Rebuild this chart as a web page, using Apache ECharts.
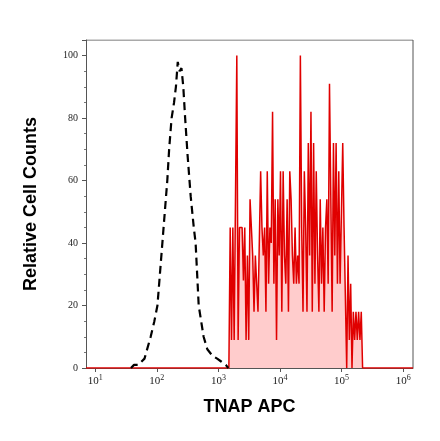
<!DOCTYPE html>
<html><head><meta charset="utf-8">
<script src="https://cdn.jsdelivr.net/npm/echarts@6/dist/echarts.min.js"></script>
<style>html,body{margin:0;padding:0;background:#fff}#c{width:440px;height:441px}</style>
</head><body><div id="c"></div>
<script>
// Isotype (dashed black): log10(intensity), count
const isoLog = [1.58,1.63,1.7,1.8,1.9,1.96,2.01,2.05,2.09,2.13,2.17,2.2,2.24,2.28,2.31,2.34,2.37,2.4,2.43,2.46,2.5,2.55,2.6,2.63,2.68,2.72,2.76,2.82,2.9,2.98,3.05,3.12,3.16];
const isoY = [0,1,1,3,10,15,20,30,40,50,60,70,80,85,90,98,95,96,90,80,68,55,45,40,20,15,10,6,4,3,2,1,0];
// Stained (red): bin start, bin width (log10), counts
const redStart = 3.17, redStep = 0.0215;
const redY = [0,45,9,45,9,9,100,9,45,45,45,28,45,9,36,9,54,45,36,18,36,36,18,18,63,45,36,45,18,63,27,45,40,82,27,54,9,54,36,63,18,63,36,27,54,18,63,54,36,27,45,27,36,27,100,45,18,63,45,18,72,36,82,18,72,27,63,36,18,54,27,45,18,45,54,27,91,91,18,72,36,72,27,63,27,27,72,45,45,0,36,9,27,0,18,9,18,9,18,9,18,0];
const xTicks = [1,2,3,4,5,6];
const yTicks = [0,20,40,60,80,100];

const iso = isoLog.map((v,i)=>[v,isoY[i]]);
const red = [[0.85,0]].concat(redY.map((v,i)=>[redStart+i*redStep,v])).concat([[6.16,0]]);
const ch = echarts.init(document.getElementById('c'));
ch.setOption({
  animation:false,
  grid:{left:86,right:27,top:40,bottom:73},
  xAxis:{type:'value',min:0.85,max:6.16,name:'TNAP APC',nameLocation:'middle',nameGap:30,
    nameTextStyle:{fontFamily:'Liberation Sans',fontWeight:'bold',fontSize:18,color:'#000'},
    axisLine:{lineStyle:{color:'#555'}},splitLine:{show:false},
    axisTick:{customValues:xTicks,length:4,lineStyle:{color:'#555'}},
    axisLabel:{customValues:xTicks,formatter:v=>'{b|10}{s|'+v+'}',margin:6,
      rich:{b:{fontFamily:'Liberation Serif',fontSize:11,color:'#222'},s:{fontFamily:'Liberation Serif',fontSize:8,color:'#222',padding:[0,0,7,0]}}}},
  yAxis:{type:'value',min:0,max:105,interval:20,name:'Relative Cell Counts',nameLocation:'middle',nameGap:46,
    nameTextStyle:{fontFamily:'Liberation Sans',fontWeight:'bold',fontSize:18,color:'#000'},
    axisLine:{show:true,lineStyle:{color:'#555'}},splitLine:{show:false},
    axisTick:{length:4,lineStyle:{color:'#555'}},minorTick:{show:true,splitNumber:4,length:2,lineStyle:{color:'#777'}},
    axisLabel:{fontFamily:'Liberation Serif',fontSize:10,color:'#222',showMaxLabel:false,formatter:v=>yTicks.includes(v)?v:''}},
  series:[
    {type:'line',data:red,symbol:'none',lineStyle:{color:'#e00000',width:1.5},areaStyle:{color:'#ffcccc',opacity:1},z:2},
    {type:'line',data:iso,symbol:'none',lineStyle:{color:'#000',width:2.2,type:[8,5]},z:3},
    {type:'line',data:[[0.85,105],[6.16,105],[6.16,0]],symbol:'none',lineStyle:{color:'#555',width:1},silent:true,z:1}
  ]
});
</script></body></html>
